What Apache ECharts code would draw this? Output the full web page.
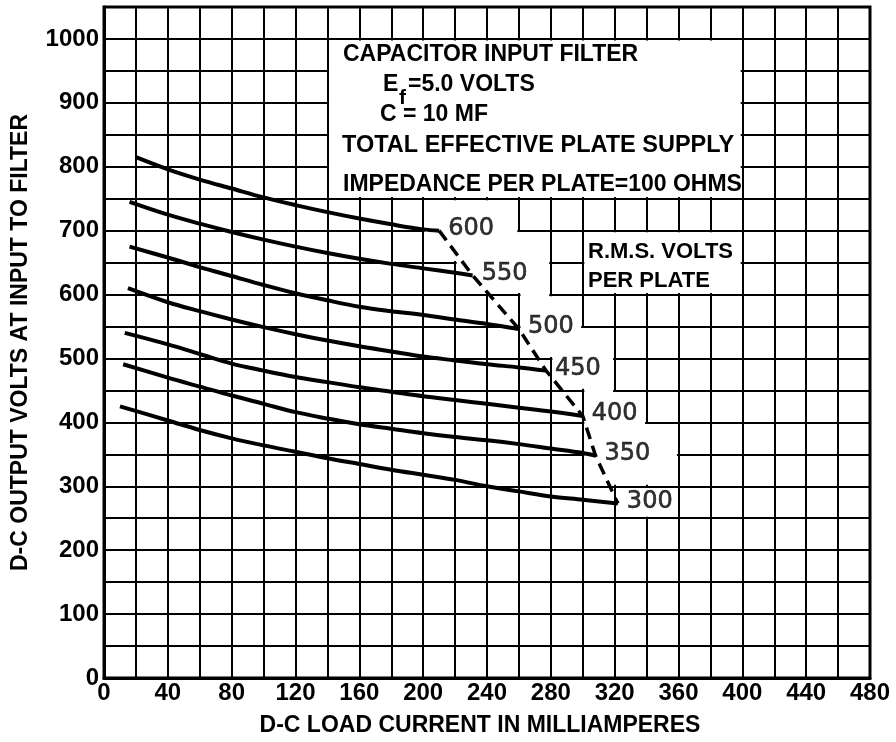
<!DOCTYPE html>
<html><head><meta charset="utf-8">
<script src="https://cdn.jsdelivr.net/npm/echarts@6/dist/echarts.min.js"></script>
<style>html,body{margin:0;padding:0;background:#fff;}#c{width:896px;height:742px;}</style>
</head><body><div id="c"></div>
<script>
// ---- data ----
const xLabelStep = 40;      // mA between tick labels
const yLabelStep = 100;     // volts between tick labels
const rmsNames = ['600', '550', '500', '450', '400', '350', '300'];
const curve600 = [[20,815],[40,796],[60,780],[80,766],[100,752],[120,740],[140,729],[160,719],[180,710],[200,702],[210,700]];
const curve550 = [[16,745],[40,725],[60,711],[80,698],[100,686],[120,675],[140,665],[160,656],[180,648],[200,641],[220,634],[231,630]];
const curve500 = [[16,675],[40,658],[60,643],[80,629],[100,615],[120,602],[140,591],[160,581],[180,574],[200,568],[220,561],[240,554],[260,546]];
const curve450 = [[15,610],[40,588],[60,574],[80,561],[100,549],[120,538],[140,528],[160,519],[180,511],[200,503],[220,497],[240,491],[260,486],[277,481]];
const curve400 = [[13,540],[40,522],[60,507],[80,492],[100,481],[120,471],[140,463],[160,455],[180,448],[200,441],[220,435],[240,429],[260,423],[280,417],[300,410]];
const curve350 = [[12,491],[40,470],[60,456],[80,442],[100,429],[120,416],[140,406],[160,397],[180,390],[200,383],[220,377],[240,372],[260,366],[280,359],[300,352],[308,348]];
const curve300 = [[10,425],[40,403],[60,388],[80,375],[100,364],[120,354],[140,344],[160,335],[180,326],[200,318],[220,310],[240,300],[260,292],[280,284],[300,279],[322,273]];
const curves = [curve600, curve550, curve500, curve450, curve400, curve350, curve300];
// blank (cleared) parts of the grid, [x0, y0, x1, y1] in mA / volts
const blankAreas = [
  [140,750,400,1000],
  [300,600,400,700],
  [200,650,260,750],[200,650,280,700],[220,600,280,700],[260,550,280,650],
  [260,500,300,600],[260,500,320,550],[280,450,320,550],[300,400,320,500],
  [300,350,340,450],[300,300,360,400],[320,250,360,300]
];

// ---- chart ----
const chart = echarts.init(document.getElementById('c'), null, {renderer: 'canvas'});
const tickFont = {fontFamily: 'Liberation Sans', fontWeight: 'bold', fontSize: 24, color: '#000'};
const boxFont = {fontFamily: 'Liberation Sans', fontWeight: 'bold', fontSize: 23, fill: '#000', verticalAlign: 'middle', align: 'left'};
function txt(x, y, text, extra) {
  return {type: 'text', x: x, y: y, z: 20, style: Object.assign({text: text}, boxFont, extra || {})};
}
const series = [];
series.push({
  type: 'custom', z: 1, silent: true,
  data: blankAreas,
  renderItem: function (params, api) {
    const a = api.coord([api.value(0), api.value(3)]);
    const b = api.coord([api.value(2), api.value(1)]);
    const inset = 1.6;
    return {type: 'rect', shape: {x: a[0] + inset, y: a[1] + inset, width: b[0] - a[0] - 2 * inset, height: b[1] - a[1] - 2 * inset}, style: {fill: '#fff'}};
  }
});
curves.forEach(function (c, i) {
  series.push({
    type: 'line', name: rmsNames[i], data: c, smooth: 0.35, symbol: 'none', z: 5,
    lineStyle: {color: '#000', width: 4}
  });
});
series.push({
  type: 'line', name: 'locus', data: curves.map(function (c) { return c[c.length - 1]; }),
  symbol: 'none', z: 6, lineStyle: {color: '#000', width: 3.5, type: [12, 7]}
});
series.push({
  type: 'scatter', z: 7, symbolSize: 0,
  data: curves.map(function (c, i) { return {name: rmsNames[i], value: c[c.length - 1]}; }),
  label: {show: true, position: 'right', distance: 9, offset: [0, -2], formatter: '{b}',
    fontFamily: 'DejaVu Sans', fontSize: 24, color: '#000', textBorderColor: '#000', textBorderWidth: 0.6}
});

chart.setOption({
  animation: false,
  backgroundColor: '#fff',
  grid: {left: 104, right: 26, top: 7, bottom: 61, show: true, borderColor: '#000', borderWidth: 3},
  xAxis: {
    type: 'value', min: 0, max: 480, interval: 20,
    name: 'D-C LOAD CURRENT IN MILLIAMPERES', nameLocation: 'middle', nameGap: 36,
    nameTextStyle: {fontFamily: 'Liberation Sans', fontWeight: 'bold', fontSize: 23, color: '#000', padding: [0, 14, 0, 0]},
    axisLine: {show: true, lineStyle: {color: '#000', width: 3}},
    axisTick: {show: false},
    axisLabel: Object.assign({margin: 3, formatter: function (v) { return v % xLabelStep === 0 ? String(v) : ''; }}, tickFont),
    splitLine: {show: true, lineStyle: {color: '#000', width: 2}}
  },
  yAxis: {
    type: 'value', min: 0, max: 1050, interval: 50,
    name: 'D-C OUTPUT VOLTS AT INPUT TO FILTER', nameLocation: 'middle', nameGap: 72, nameRotate: 90,
    nameTextStyle: {fontFamily: 'Liberation Sans', fontWeight: 'bold', fontSize: 23, color: '#000'},
    axisLine: {show: true, lineStyle: {color: '#000', width: 3}},
    axisTick: {show: false},
    axisLabel: Object.assign({margin: 5, formatter: function (v) { return v % yLabelStep === 0 ? String(v) : ''; }}, tickFont),
    splitLine: {show: true, lineStyle: {color: '#000', width: 2}}
  },
  graphic: [
    txt(343, 55, 'CAPACITOR INPUT FILTER'),
    txt(383, 85, 'E'),
    txt(399, 98, 'f', {fontSize: 21}),
    txt(408, 85, '=5.0 VOLTS'),
    txt(380, 115, 'C = 10 MF'),
    txt(342, 146, 'TOTAL EFFECTIVE PLATE SUPPLY', {fontSize: 23.5}),
    txt(343, 185, 'IMPEDANCE PER PLATE=100 OHMS', {fontSize: 23}),
    txt(588, 252, 'R.M.S. VOLTS', {fontSize: 22}),
    txt(588, 281, 'PER PLATE', {fontSize: 22})
  ],
  series: series
});
</script></body></html>
